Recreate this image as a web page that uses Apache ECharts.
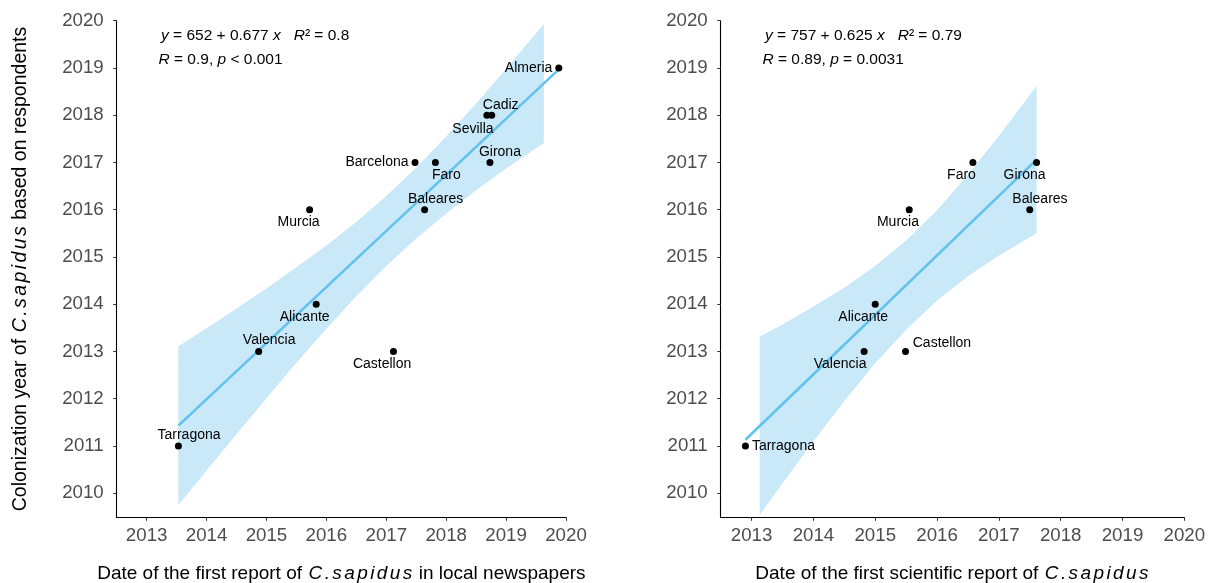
<!DOCTYPE html>
<html>
<head>
<meta charset="utf-8">
<style>
  html, body { margin: 0; padding: 0; background: #fff; }
  #chart { width: 1219px; height: 583px; }
</style>
<script src="https://cdn.jsdelivr.net/npm/echarts@6/dist/echarts.min.js"></script>
</head>
<body>
<div id="chart"></div>
<script>
// Tick values shared by both panels
const xTicks = [2013, 2014, 2015, 2016, 2017, 2018, 2019, 2020];
const yTicks = [2010, 2011, 2012, 2013, 2014, 2015, 2016, 2017, 2018, 2019, 2020];

// Panel A: first report in local newspapers vs colonization year
const newsNames = ['Tarragona', 'Valencia', 'Alicante', 'Murcia', 'Castellon', 'Barcelona',
                   'Faro', 'Baleares', 'Girona', 'Sevilla', 'Cadiz', 'Almeria'];
const newsX = [2013.53, 2014.87, 2015.83, 2015.72, 2017.12, 2017.48,
               2017.82, 2017.64, 2018.73, 2018.68, 2018.76, 2019.88];
const newsY = [2011, 2013, 2014, 2016, 2013, 2017, 2017, 2016, 2017, 2018, 2018, 2019];
const newsFitX = [2013.53, 2019.88];
const newsFitY = [2011.43, 2018.97];
const newsBandX = [2013.53, 2014, 2014.5, 2015, 2015.5, 2016, 2016.5, 2017, 2017.5, 2018, 2018.5, 2019, 2019.63];
const newsBandHi = [2013.11, 2013.49, 2013.91, 2014.33, 2014.78, 2015.24, 2015.74, 2016.29, 2016.89, 2017.55, 2018.25, 2018.98, 2019.93];
const newsBandLo = [2009.75, 2010.48, 2011.25, 2012.01, 2012.76, 2013.48, 2014.17, 2014.81, 2015.39, 2015.92, 2016.41, 2016.87, 2017.41];

// Panel B: first scientific report vs colonization year
const sciNames = ['Tarragona', 'Valencia', 'Alicante', 'Castellon', 'Murcia', 'Faro', 'Baleares', 'Girona'];
const sciX = [2012.9, 2014.82, 2015.0, 2015.49, 2015.55, 2016.58, 2017.5, 2017.61];
const sciY = [2011, 2013, 2014, 2013, 2016, 2017, 2016, 2017];
const sciFitX = [2012.9, 2017.61];
const sciFitY = [2011.13, 2017.06];
const sciBandX = [2013.13, 2013.5, 2014, 2014.5, 2015, 2015.5, 2016, 2016.5, 2017, 2017.61];
const sciBandHi = [2013.31, 2013.57, 2013.95, 2014.35, 2014.81, 2015.35, 2015.99, 2016.74, 2017.56, 2018.62];
const sciBandLo = [2009.54, 2010.21, 2011.10, 2011.95, 2012.75, 2013.46, 2014.08, 2014.59, 2015.03, 2015.50];

// Where each site name sits relative to its dot
const newsLabelPlace = {
  Almeria: { position: 'left', distance: 3 },
  Cadiz: { offset: [9, -10] },
  Sevilla: { offset: [-14, 14] },
  Girona: { offset: [10, -10] },
  Barcelona: { position: 'left', distance: 3 },
  Faro: { offset: [11, 13] },
  Baleares: { offset: [11, -11] },
  Murcia: { offset: [-11, 12.5] },
  Alicante: { offset: [-11.5, 13] },
  Valencia: { offset: [10.5, -11.3] },
  Castellon: { offset: [-11.4, 13] },
  Tarragona: { offset: [10.6, -11] }
};
const sciLabelPlace = {
  Tarragona: { position: 'right', distance: 3 },
  Valencia: { offset: [-24, 13] },
  Alicante: { offset: [-12, 13.3] },
  Castellon: { offset: [36.4, -8] },
  Murcia: { offset: [-11.3, 12.4] },
  Faro: { offset: [-11.4, 12.7] },
  Baleares: { offset: [10.2, -11] },
  Girona: { offset: [-12, 13] }
};

const FONT = '"Liberation Sans", Arial, Helvetica, sans-serif';
const BAND_FILL = '#c9e8f8';
const LINE_COLOR = '#62c2ee';

// Species name in italics with a little extra tracking
function speciesRich(name) {
  return name.split('').map(ch => '{sp|' + ch + '}').join('');
}
function titleRich(size) {
  return { sp: { fontStyle: 'italic', fontSize: size, fontFamily: FONT, color: '#000', padding: [0, 1.2, 0, 1.2] } };
}
const yearLabel = v => String(v);

function xAxisFor(gridIndex, name) {
  return {
    type: 'value', gridIndex, min: 2012.5, max: 2020,
    name, nameLocation: 'middle', nameGap: 47,
    nameTextStyle: { fontSize: 19, fontFamily: FONT, color: '#000', rich: titleRich(19) },
    axisLine: { onZero: false, lineStyle: { color: '#000', width: 1.1 } },
    axisTick: { customValues: xTicks, length: 3.5, lineStyle: { color: '#333' } },
    axisLabel: { customValues: xTicks, formatter: yearLabel, fontSize: 18.7, fontFamily: FONT, color: '#4d4d4d', margin: 9 },
    splitLine: { show: false }
  };
}
function yAxisFor(gridIndex, name) {
  return {
    type: 'value', gridIndex, min: 2009.49, max: 2020,
    name, nameLocation: 'middle', nameGap: 86,
    nameTextStyle: { fontSize: 19.5, fontFamily: FONT, color: '#000', rich: titleRich(19.5) },
    axisLine: { onZero: false, lineStyle: { color: '#000', width: 1.1 } },
    axisTick: { customValues: yTicks, length: 3.5, lineStyle: { color: '#333' } },
    axisLabel: { customValues: yTicks, formatter: yearLabel, fontSize: 18.7, fontFamily: FONT, color: '#4d4d4d', margin: 13 },
    splitLine: { show: false }
  };
}

function bandSeries(idx, xs, lo, hi) {
  return {
    type: 'custom', xAxisIndex: idx, yAxisIndex: idx, z: 1, silent: true,
    data: xs.map((x, i) => [x, lo[i], hi[i]]),
    encode: { x: 0, y: [1, 2] },
    renderItem: function (params, api) {
      if (params.dataIndex !== 0) return null;
      const pts = [];
      for (let i = 0; i < xs.length; i++) pts.push(api.coord([xs[i], hi[i]]));
      for (let i = xs.length - 1; i >= 0; i--) pts.push(api.coord([xs[i], lo[i]]));
      return { type: 'polygon', shape: { points: pts }, style: { fill: BAND_FILL } };
    }
  };
}
function fitSeries(idx, xs, ys) {
  return {
    type: 'line', xAxisIndex: idx, yAxisIndex: idx, z: 2, silent: true,
    data: xs.map((x, i) => [x, ys[i]]),
    showSymbol: false, symbol: 'none',
    lineStyle: { color: LINE_COLOR, width: 2.6 }
  };
}
function pointSeries(idx, names, xs, ys, place) {
  return {
    type: 'scatter', xAxisIndex: idx, yAxisIndex: idx, z: 3, silent: true,
    symbolSize: 7, itemStyle: { color: '#000', opacity: 1 },
    data: names.map((n, i) => {
      const p = place[n] || {};
      return {
        name: n, value: [xs[i], ys[i]],
        label: {
          show: true, formatter: '{b}',
          position: p.position || 'inside',
          distance: p.distance || 0,
          offset: p.offset || [0, 0],
          fontSize: 14, fontFamily: FONT, color: '#000',
          textBorderWidth: 0
        }
      };
    })
  };
}

const statRich = {
  i: { fontStyle: 'italic', fontSize: 15.5, fontFamily: FONT, fill: '#000' },
  n: { fontSize: 15.5, fontFamily: FONT, fill: '#000' }
};
function statText(left, top, text) {
  return {
    type: 'text', left, top, silent: true,
    style: { text, rich: statRich, fontSize: 15.5, fontFamily: FONT, fill: '#000' }
  };
}

const chart = echarts.init(document.getElementById('chart'), null, { renderer: 'canvas' });
chart.setOption({
  backgroundColor: '#fff',
  animation: false,
  grid: [
    { left: 116.7, top: 20.7, width: 449.3, height: 496.6, outerBoundsMode: 'none' },
    { left: 720.7, top: 20.7, width: 463.6, height: 496.6, outerBoundsMode: 'none' }
  ],
  xAxis: [
    xAxisFor(0, 'Date of the first report of ' + speciesRich('C.sapidus') + ' in local newspapers'),
    xAxisFor(1, 'Date of the first scientific report of ' + speciesRich('C.sapidus'))
  ],
  yAxis: [
    yAxisFor(0, 'Colonization year of ' + speciesRich('C.sapidus') + ' based on respondents'),
    Object.assign(yAxisFor(1, ''), { name: '' })
  ],
  graphic: [
    statText(161, 28, '{i|y}{n| = 652 + 0.677 }{i|x}{n|   }{i|R}{n|² = 0.8}'),
    statText(158.5, 52, '{i|R}{n| = 0.9, }{i|p}{n| < 0.001}'),
    statText(765, 28, '{i|y}{n| = 757 + 0.625 }{i|x}{n|   }{i|R}{n|² = 0.79}'),
    statText(762.5, 52, '{i|R}{n| = 0.89, }{i|p}{n| = 0.0031}')
  ],
  series: [
    bandSeries(0, newsBandX, newsBandLo, newsBandHi),
    fitSeries(0, newsFitX, newsFitY),
    pointSeries(0, newsNames, newsX, newsY, newsLabelPlace),
    bandSeries(1, sciBandX, sciBandLo, sciBandHi),
    fitSeries(1, sciFitX, sciFitY),
    pointSeries(1, sciNames, sciX, sciY, sciLabelPlace)
  ]
});
</script>
</body>
</html>
